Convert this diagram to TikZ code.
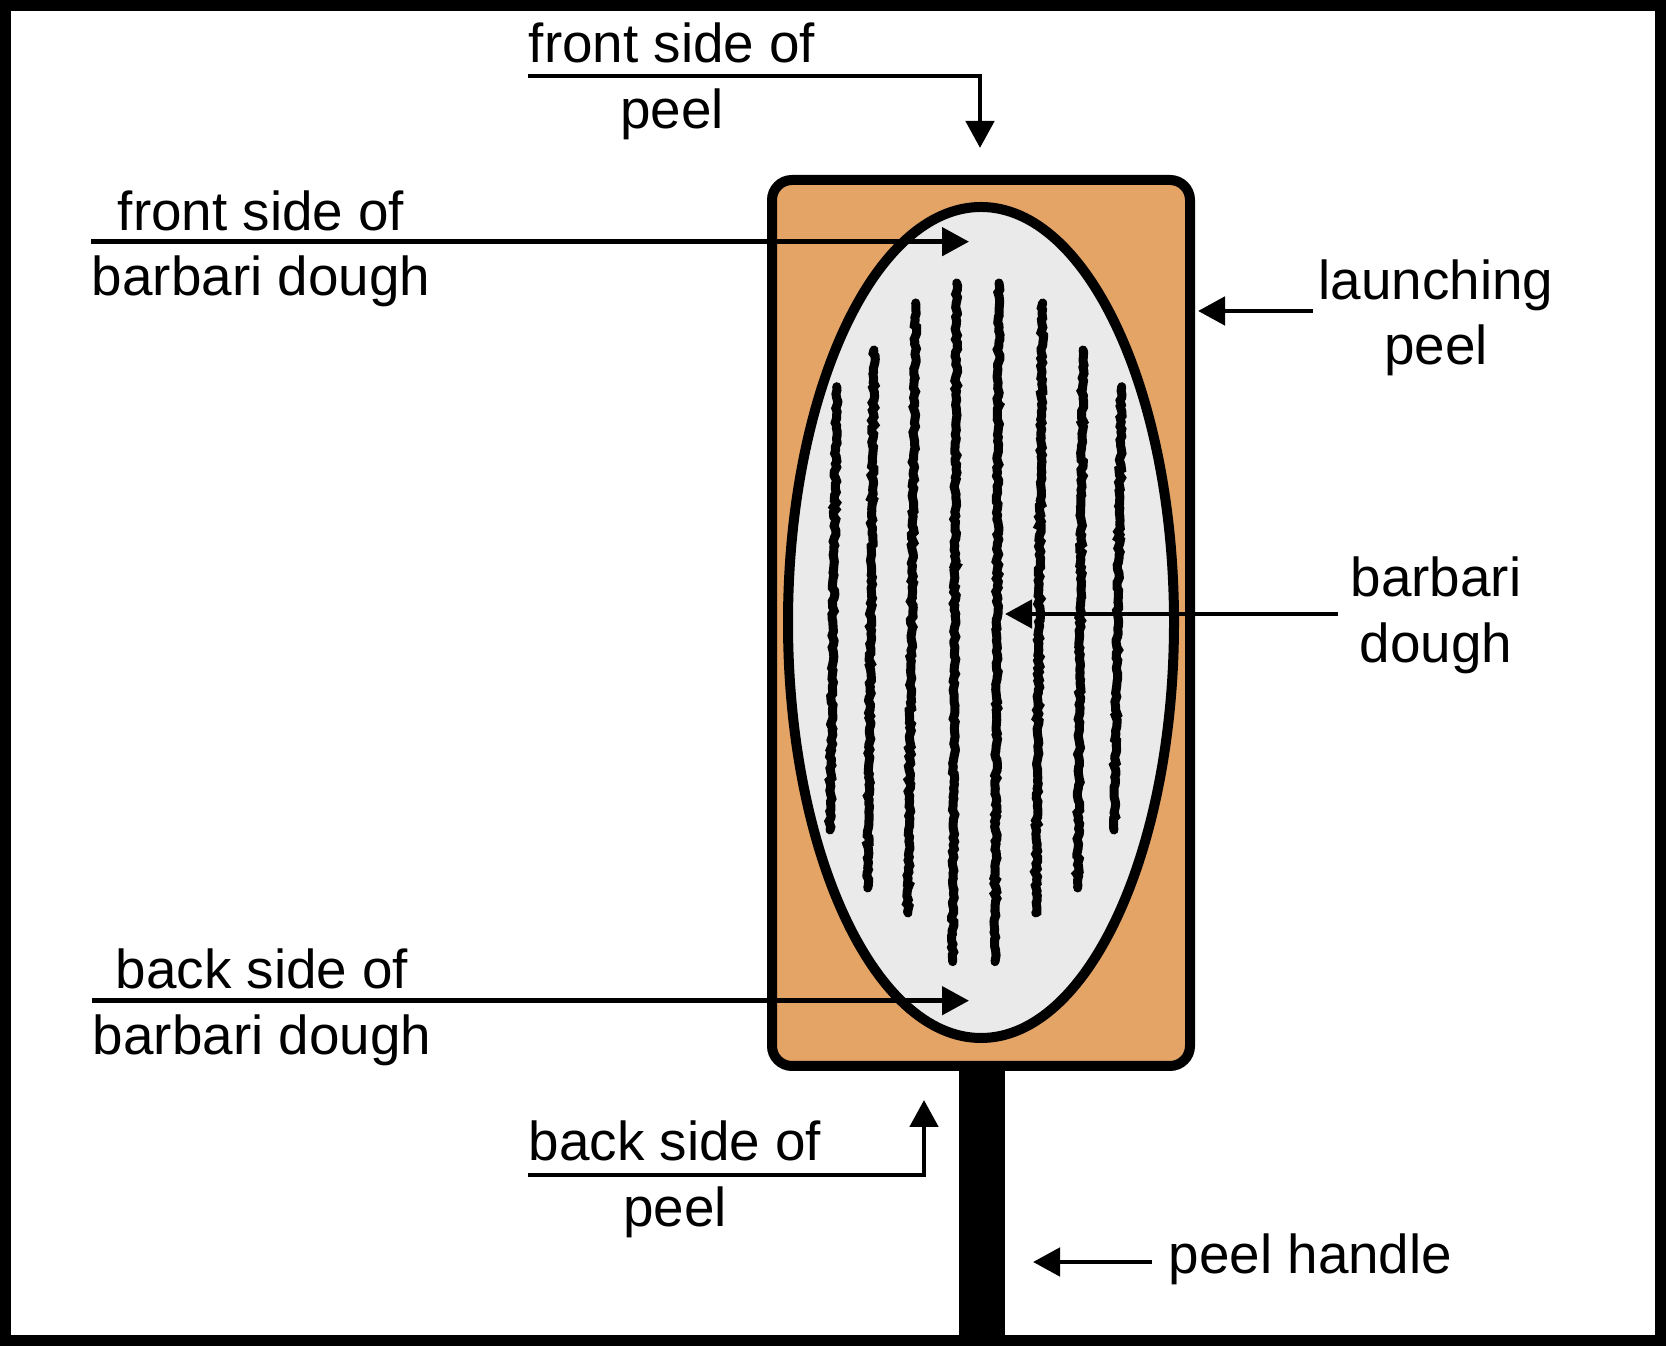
\documentclass[tikz,border=0pt]{standalone}
\usepackage{fontspec}
\setmainfont{Liberation Sans}
\usepackage{tikz}
\usetikzlibrary{arrows.meta,shapes.geometric,decorations.pathmorphing}

\definecolor{peelorange}{RGB}{227,164,101}
\definecolor{doughgrey}{RGB}{234,234,234}

\tikzset{
  lbl/.style={font=\fontsize{15.6}{18.6}\selectfont, align=center, inner sep=0pt,
    execute at begin node=\strut, execute at end node=\strut},
  pointer/.style={line width=1.4pt, -{Triangle[length=0.27cm,width=0.28cm]}},
  score/.style={line width=0.09cm, line cap=round, decorate,
    decoration={random steps,segment length=1pt,amplitude=0.4pt}}
}

\begin{document}
\begin{tikzpicture}
        \pgfmathsetseed{7}
        \useasboundingbox (0,0) rectangle (16.66,13.46);

        % handle
        \fill (9.59,0) rectangle (10.05,2.8);

        % peel and dough
        \node[draw, line width=0.1cm, fill=peelorange, rounded corners=0.2cm,
          minimum width=4.18cm, minimum height=8.86cm, inner sep=0pt] (peel) at (9.81,7.23) {};
        \node[draw, ellipse, line width=0.1cm, fill=doughgrey,
          minimum width=3.86cm, minimum height=8.31cm, inner sep=0pt] (dough) at (9.81,7.235) {};

        % scoring lines
        \foreach \xa/\ya/\xb/\yb in {8.367/9.593/8.30/5.16, 8.74/9.96/8.677/4.58,
            9.157/10.43/9.08/4.33, 9.567/10.63/9.527/3.843, 9.99/10.63/9.95/3.843,
            10.427/10.43/10.357/4.33, 10.83/9.96/10.777/4.58, 11.217/9.593/11.14/5.16}
          \draw[score] (\xa,\ya) -- (\xb,\yb);

        % labels
        \node[lbl] (fsp) at (6.72,12.605) {front side of\\peel};
        \node[lbl] (fsd) at (2.61,10.93) {front side of\\barbari dough};
        \node[lbl] (lp) at (14.36,10.24) {launching\\peel};
        \node[lbl] (bd) at (14.36,7.265) {barbari\\dough};
        \node[lbl] (bsd) at (2.62,3.345) {back side of\\barbari dough};
        \node[lbl] (bsp) at (6.75,1.625) {back side of\\peel};
        \node[lbl, anchor=west] (ph) at (11.68,0.86) {peel handle};

        % arrow tips
        \coordinate (fsptip) at (9.80,11.98);
        \coordinate (fsdtip) at (9.69,11.043);
        \coordinate (lptip) at (11.98,10.35);
        \coordinate (bdtip) at (10.05,7.32);
        \coordinate (bsdtip) at (9.69,3.453);
        \coordinate (bsptip) at (9.24,2.46);
        \coordinate (phtip) at (10.33,0.84);

        \draw[pointer] ([yshift=0.095cm]fsp.west) -| (fsptip);
        \draw[pointer] (fsd.west |- fsdtip) -- (fsdtip);
        \draw[pointer, shorten <=0.05cm] (lp.west |- lptip) -- (lptip);
        \draw[pointer, shorten <=0.12cm] (bd.west |- bdtip) -- (bdtip);
        \draw[pointer] (bsd.west |- bsdtip) -- (bsdtip);
        \draw[pointer] ([yshift=0.085cm]bsp.west) -| (bsptip);
        \draw[pointer, shorten <=0.16cm] (ph.west |- phtip) -- (phtip);

        % frame
        \draw[line width=0.11cm] (0.055,0.055) rectangle (16.605,13.405);
\end{tikzpicture}
\end{document}
